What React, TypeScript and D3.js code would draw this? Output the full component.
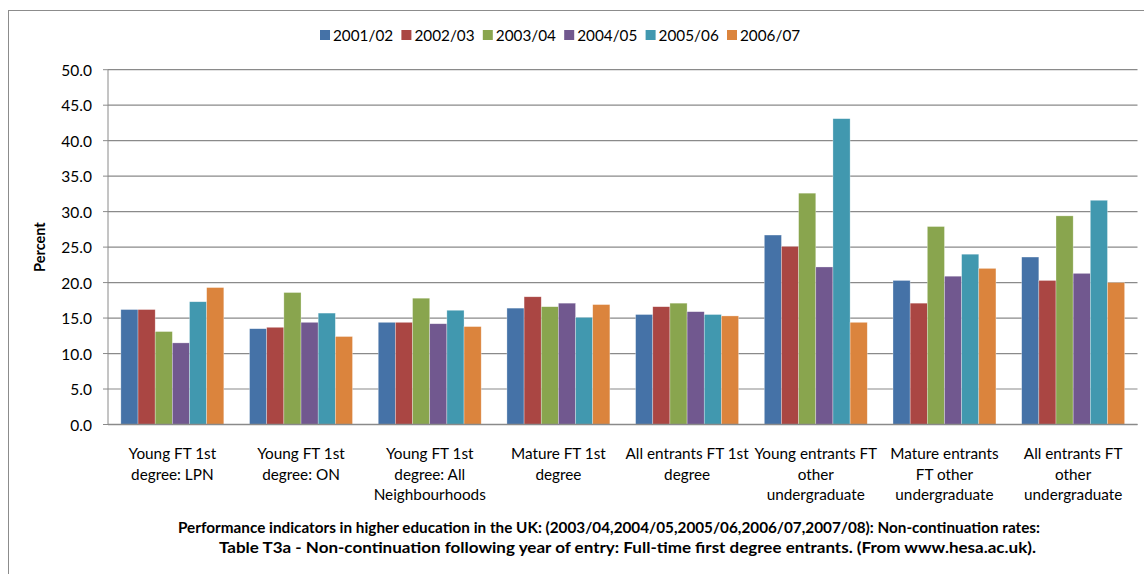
import React from "react";
import * as d3 from "d3";

const categories = [
  "Young FT 1st\ndegree:  LPN",
  "Young FT 1st\ndegree:  ON",
  "Young FT 1st\ndegree:  All\nNeighbourhoods",
  "Mature FT 1st\ndegree",
  "All entrants FT 1st\ndegree",
  "Young entrants FT\nother\nundergraduate",
  "Mature entrants\nFT other\nundergraduate",
  "All entrants FT\nother\nundergraduate",
];
const seriesNames = ["2001/02", "2002/03", "2003/04", "2004/05", "2005/06", "2006/07"];
const s2001 = [16.2, 13.5, 14.4, 16.4, 15.5, 26.7, 20.3, 23.6];
const s2002 = [16.2, 13.7, 14.4, 18.0, 16.6, 25.1, 17.1, 20.3];
const s2003 = [13.1, 18.6, 17.8, 16.6, 17.1, 32.6, 27.9, 29.4];
const s2004 = [11.5, 14.4, 14.2, 17.1, 15.9, 22.2, 20.9, 21.3];
const s2005 = [17.3, 15.7, 16.1, 15.1, 15.5, 43.1, 24.0, 31.6];
const s2006 = [19.3, 12.4, 13.8, 16.9, 15.3, 14.4, 22.0, 20.0];
const seriesValues = [s2001, s2002, s2003, s2004, s2005, s2006];
const colors = ["#4572A7", "#AA4643", "#89A54E", "#71588F", "#4198AF", "#DB843D"];
const yTicks = [0, 5, 10, 15, 20, 25, 30, 35, 40, 45, 50];
const yTitle = "Percent";
const titleLines = [
  "Performance indicators in higher education  in the UK: (2003/04,2004/05,2005/06,2006/07,2007/08): Non-continuation rates:",
  "Table T3a - Non-continuation  following  year of entry: Full-time first degree entrants.  (From www.hesa.ac.uk).",
];

const FONT = "Lato, 'Open Sans', sans-serif";

export default function App() {
  const left = 108;
  const right = 1137.5;
  const top = 69.7;
  const bottom = 424.5;
  const y = d3.scaleLinear().domain([0, 50]).range([bottom, top]);
  const x0 = d3.scaleBand<string>().domain(categories).range([left, right]).padding(0);
  const x1 = d3
    .scaleBand<string>()
    .domain(seriesNames)
    .range([0, x0.bandwidth()])
    .paddingInner(0)
    .paddingOuter(0.75);
  const legendX = d3.scaleLinear().domain([0, 5]).range([320, 727]);

  return (
    <div style={{ position: "fixed", left: 0, top: 0 }}>
      <svg width={1144} height={574} style={{ display: "block", background: "#fff" }}>
        <rect x={8.5} y={10.5} width={1150} height={600} fill="#fff" stroke="#8c8c8c" strokeWidth={1} />
        {yTicks.map((t) => (
          <line key={"g" + t} x1={left} x2={right} y1={y(t)} y2={y(t)} stroke="#8a8a8a" strokeWidth={1.2} />
        ))}
        {yTicks.map((t) => (
          <g key={"t" + t}>
            <line x1={left - 5} x2={left} y1={y(t)} y2={y(t)} stroke="#8a8a8a" strokeWidth={1} />
            <text
              x={92}
              y={y(t)}
              textAnchor="end"
              dominantBaseline="central"
              fontFamily={FONT}
              fontSize={15.5}
              fill="#000"
            >
              {t.toFixed(1)}
            </text>
          </g>
        ))}
        {categories.map((c, ci) => (
          <g key={c} transform={`translate(${x0(c)},0)`}>
            {seriesNames.map((s, si) => {
              const v = seriesValues[si][ci];
              return (
                <rect
                  key={s}
                  x={x1(s)}
                  y={y(v)}
                  width={x1.bandwidth()}
                  height={y(0) - y(v)}
                  fill={colors[si]}
                  stroke="#ffffff"
                  strokeOpacity={0.5}
                  strokeWidth={0.6}
                />
              );
            })}
          </g>
        ))}
        <line x1={left} x2={left} y1={top} y2={bottom} stroke="#8a8a8a" strokeWidth={1} />
        <line x1={left} x2={right} y1={bottom} y2={bottom} stroke="#8a8a8a" strokeWidth={1.5} />
        {categories.map((c) => {
          const cx = (x0(c) as number) + x0.bandwidth() / 2;
          return (
            <text key={"l" + c} x={cx} y={459} textAnchor="middle" fontFamily={FONT} fontSize={15.3} fill="#000">
              {c.split("\n").map((ln, i) => (
                <tspan key={i} x={cx} dy={i === 0 ? 0 : 20.7}>
                  {ln}
                </tspan>
              ))}
            </text>
          );
        })}
        <text
          transform={`translate(45,${(top + bottom) / 2}) rotate(-90)`}
          textAnchor="middle"
          fontFamily={FONT}
          fontWeight="bold"
          fontSize={14.5}
          fill="#000"
        >
          {yTitle}
        </text>
        {seriesNames.map((s, i) => (
          <g key={"lg" + s} transform={`translate(${legendX(i)},35)`}>
            <rect x={0} y={-5} width={10} height={10} fill={colors[i]} />
            <text x={13} y={0} dominantBaseline="central" fontFamily={FONT} fontSize={15.3} fill="#000">
              {s}
            </text>
          </g>
        ))}
        <text
          x={178}
          y={533}
          textLength={862}
          lengthAdjust="spacingAndGlyphs"
          fontFamily={FONT}
          fontWeight="bold"
          fontSize={14.5}
          fill="#000"
        >
          {titleLines[0]}
        </text>
        <text
          x={219}
          y={553}
          textLength={817}
          lengthAdjust="spacingAndGlyphs"
          fontFamily={FONT}
          fontWeight="bold"
          fontSize={14.5}
          fill="#000"
        >
          {titleLines[1]}
        </text>
      </svg>
    </div>
  );
}
